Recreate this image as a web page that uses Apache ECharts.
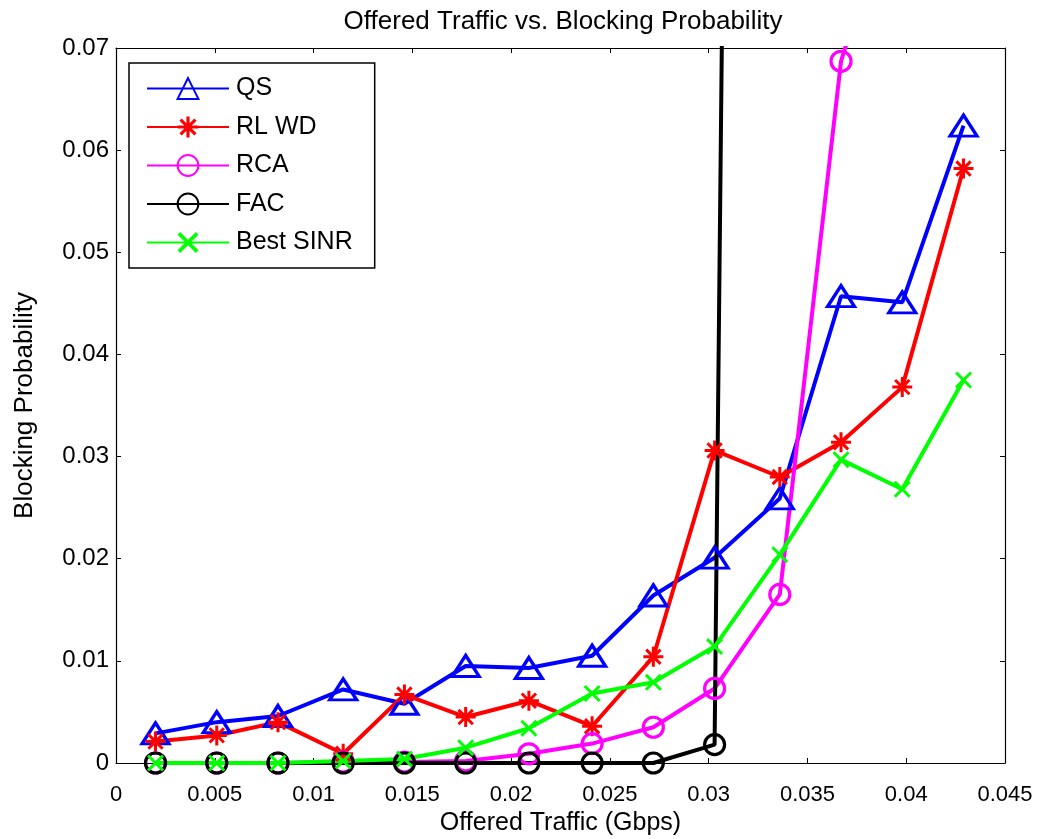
<!DOCTYPE html>
<html>
<head>
<meta charset="utf-8">
<script src="https://cdn.jsdelivr.net/npm/echarts@6/dist/echarts.min.js"></script>
<style>
  html, body { margin: 0; padding: 0; background: #fff; }
  #chart { width: 1047px; height: 839px; }
</style>
</head>
<body>
<div id="chart"></div>
<script>
// Offered traffic (Gbps) at each simulation point
const traffic = [0.0020, 0.0051, 0.0082, 0.0115, 0.0146, 0.0177, 0.0209, 0.0241, 0.0272, 0.0303, 0.0336, 0.0367, 0.0398, 0.0429];

// Blocking probability per scheme
const qs       = [0.0029, 0.0040, 0.0046, 0.0072, 0.0058, 0.0095, 0.0093, 0.0105, 0.0164, 0.0201, 0.0259, 0.0457, 0.0451, 0.0624];
const rlwd     = [0.0021, 0.0027, 0.0040, 0.0009, 0.0067, 0.0045, 0.0061, 0.0036, 0.0104, 0.0306, 0.0280, 0.0314, 0.0368, 0.0582];
const rca      = [0, 0, 0, 0.0001, 0.0001, 0.0002, 0.0009, 0.0019, 0.0035, 0.0073, 0.0165, 0.0687, 0.088, 0.105];
const fac      = [0, 0, 0, 0, 0, 0, 0, 0, 0, 0.0018, 0.62, 0.70, 0.75, 0.80];
const bestSinr = [0, 0, 0, 0.0002, 0.0004, 0.0015, 0.0034, 0.0068, 0.0079, 0.0114, 0.0204, 0.0297, 0.0268, 0.0375];

const seriesNames = ['QS', 'RL WD', 'RCA', 'FAC', 'Best SINR'];

// Asterisk and cross markers as filled paths
const asteriskPath = 'path://M8.5 0H11.5V20H8.5Z M0 8.5H20V11.5H0Z M3.9 1.8L18.2 16.1L16.1 18.2L1.8 3.9Z M16.1 1.8L18.2 3.9L3.9 18.2L1.8 16.1Z';
const crossPath = 'path://M3.5 1.4L18.6 16.5L16.5 18.6L1.4 3.5Z M16.5 1.4L18.6 3.5L3.5 18.6L1.4 16.5Z';

const FONT = '"Liberation Sans", Arial, Helvetica, sans-serif';

function pairs(ys) {
  return traffic.map((x, i) => [x, ys[i]]);
}

function lineSeries(name, ys, color, symbol, size, hollow) {
  return {
    name: name,
    type: 'line',
    data: pairs(ys),
    clip: true,
    symbol: symbol,
    symbolSize: size,
    showAllSymbol: true,
    lineStyle: { color: color, width: 4 },
    itemStyle: hollow
      ? { color: 'rgba(255,255,255,0)', borderColor: color, borderWidth: 3.2 }
      : { color: color, borderWidth: 0 },
    emphasis: { disabled: true },
    animation: false
  };
}

function frameAxis(extra) {
  return Object.assign({
    type: 'value',
    axisLine: { show: true, onZero: false, lineStyle: { color: '#000', width: 1.2 } },
    axisTick: { show: true, inside: true, length: 5, lineStyle: { color: '#000', width: 1 } },
    splitLine: { show: false }
  }, extra);
}

const chart = echarts.init(document.getElementById('chart'), null, { renderer: 'canvas' });

chart.setOption({
  backgroundColor: '#fff',
  animation: false,
  title: {
    text: 'Offered Traffic vs. Blocking Probability',
    left: 558,
    textAlign: 'center',
    top: 4,
    textStyle: { fontFamily: FONT, fontSize: 26, fontWeight: 'normal', color: '#000' }
  },
  grid: { left: 116, right: 42, top: 48, bottom: 76, containLabel: false, outerBoundsMode: 'none' },
  legend: {
    data: seriesNames,
    orient: 'vertical',
    left: 129,
    top: 63,
    padding: [13, 22, 13, 17],
    itemWidth: 82,
    itemHeight: 26,
    itemGap: 13.5,
    backgroundColor: '#fff',
    borderColor: '#000',
    borderWidth: 1.5,
    borderRadius: 0,
    textStyle: { fontFamily: FONT, fontSize: 25, color: '#000', padding: [0, 0, 0, 2] },
    selectedMode: false
  },
  xAxis: [
    frameAxis({
      min: 0,
      max: 0.045,
      interval: 0.005,
      name: 'Offered Traffic (Gbps)',
      nameLocation: 'middle',
      nameGap: 47,
      nameTextStyle: { fontFamily: FONT, fontSize: 25, color: '#000' },
      axisLabel: { fontFamily: FONT, fontSize: 22, color: '#000', margin: 21 }
    }),
    frameAxis({
      position: 'top',
      min: 0,
      max: 0.045,
      interval: 0.005,
      axisLabel: { show: false }
    })
  ],
  yAxis: [
    frameAxis({
      min: 0,
      max: 0.07,
      interval: 0.01,
      name: 'Blocking Probability',
      nameLocation: 'middle',
      nameGap: 78,
      nameTextStyle: { fontFamily: FONT, fontSize: 26, color: '#000' },
      axisLabel: { fontFamily: FONT, fontSize: 24, color: '#000', margin: 7 }
    }),
    frameAxis({
      position: 'right',
      min: 0,
      max: 0.07,
      interval: 0.01,
      axisLabel: { show: false }
    })
  ],
  series: [
    lineSeries('QS', qs, '#0000ff', 'triangle', [27, 21], true),
    lineSeries('RL WD', rlwd, '#ff0000', asteriskPath, 20, false),
    lineSeries('RCA', rca, '#ff00ff', 'circle', 20, true),
    lineSeries('FAC', fac, '#000000', 'circle', 20, true),
    lineSeries('Best SINR', bestSinr, '#00ff00', crossPath, 17, false)
  ]
});
</script>
</body>
</html>
